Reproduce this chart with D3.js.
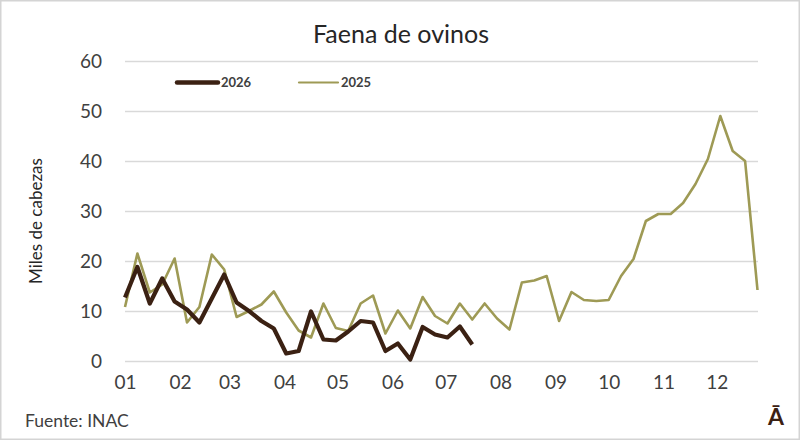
<!DOCTYPE html>
<html><head><meta charset="utf-8">
<script src="https://cdn.jsdelivr.net/npm/d3@7"></script>
<style>
html,body{margin:0;padding:0;background:#fff;}
svg{display:block;font-family:Lato,"Open Sans",sans-serif;}
</style></head>
<body>
<svg id="chart" width="800" height="440"></svg>
<script>
// Data: weekly slaughter (thousand head)
const values2025 = [10.8, 21.5, 13.7, 15.3, 20.5, 7.7, 10.8, 21.3, 18.3, 8.8, 10, 11.3, 13.9, 9.7, 6.1, 4.7, 11.5, 6.6, 6, 11.5, 13.1, 5.5, 10.1, 6.5, 12.8, 9, 7.5, 11.5, 8.3, 11.5, 8.5, 6.3, 15.7, 16.1, 17, 8, 13.8, 12.2, 12, 12.2, 17, 20.4, 28, 29.4, 29.4, 31.6, 35.4, 40.4, 49, 42, 40, 14.2];
const values2026 = [12.7, 18.8, 11.5, 16.5, 11.9, 10.3, 7.7, 12.5, 17.3, 11.7, 10, 8, 6.5, 1.5, 2, 9.9, 4.3, 4.1, 5.9, 8, 7.7, 2, 3.5, 0.3, 6.8, 5.3, 4.7, 6.9, 3.3];
const monthLabels = ["01","02","03","04","05","06","07","08","09","10","11","12"];
const monthStartDay = [0,31,59,90,120,151,181,212,243,273,304,334];
const yTicks = [0,10,20,30,40,50,60];
const seriesNames = ["2026","2025"];

const svg = d3.select("#chart");
const W = 800, H = 440;

// frame
svg.append("rect").attr("x",0.75).attr("y",0.75).attr("width",W-1.5).attr("height",H-1.5)
  .attr("fill","#fff").attr("stroke","#d4d4d4").attr("stroke-width",1.5);

const x = d3.scaleLinear().domain([0,51]).range([125,757.5]);
const y = d3.scaleLinear().domain([0,60]).range([361,61]);

// y grid + labels
const yAxis = svg.append("g").attr("transform","translate(125,0)")
  .call(d3.axisLeft(y).tickValues(yTicks).tickSize(-(758-125)).tickPadding(23).tickFormat(d3.format("d")));
yAxis.select(".domain").remove();
yAxis.selectAll(".tick line").attr("stroke","#d9d9d9").attr("stroke-width",1.5);
yAxis.selectAll(".tick text").attr("fill","#404040").style("font-size","19px").style("font-family","Lato,sans-serif");

// x labels
const xAxis = svg.append("g").attr("transform","translate(0,361)")
  .call(d3.axisBottom(x).tickValues(monthStartDay.map(d=>d/7)).tickSize(0).tickPadding(15)
    .tickFormat((d,i)=>monthLabels[i]));
xAxis.select(".domain").remove();
xAxis.selectAll(".tick text").attr("fill","#404040").style("font-size","19px").style("font-family","Lato,sans-serif");

const line = d3.line().x((d,i)=>x(i)).y(d=>y(d)).curve(d3.curveLinear);

svg.append("path").datum(values2025).attr("d",line)
  .attr("fill","none").attr("stroke","#9e9a55").attr("stroke-width",2.6).attr("stroke-linejoin","round");
svg.append("path").datum(values2026).attr("d",line)
  .attr("fill","none").attr("stroke","#3b2113").attr("stroke-width",4.2).attr("stroke-linejoin","round");

// title
svg.append("text").attr("x",401).attr("y",43).attr("text-anchor","middle")
  .attr("fill","#262626").style("font-size","25px").text("Faena de ovinos");

// y title
svg.append("text").attr("transform","translate(42,221) rotate(-90)").attr("text-anchor","middle")
  .attr("fill","#262626").style("font-size","17px").text("Miles de cabezas");

// legend
const leg = [
  {name:seriesNames[0], x1:177, x2:218, color:"#3b2113", w:4.5},
  {name:seriesNames[1], x1:299, x2:338, color:"#9e9a55", w:2.2}
];
leg.forEach(l=>{
  svg.append("line").attr("x1",l.x1).attr("x2",l.x2).attr("y1",82.5).attr("y2",82.5)
    .attr("stroke",l.color).attr("stroke-width",l.w).attr("stroke-linecap","round");
  svg.append("text").attr("x",l.x2+3).attr("y",87).attr("fill","#404040")
    .style("font-size","13px").style("font-weight","bold").text(l.name);
});

// source
svg.append("text").attr("x",25).attr("y",427).attr("fill","#404040")
  .style("font-size","17.5px").text("Fuente: INAC");

// logo
svg.append("text").attr("x",776).attr("y",425).attr("text-anchor","middle").attr("fill","#3b2113")
  .style("font-size","23px").style("font-weight","bold").text("Ā");
</script>
</body></html>
